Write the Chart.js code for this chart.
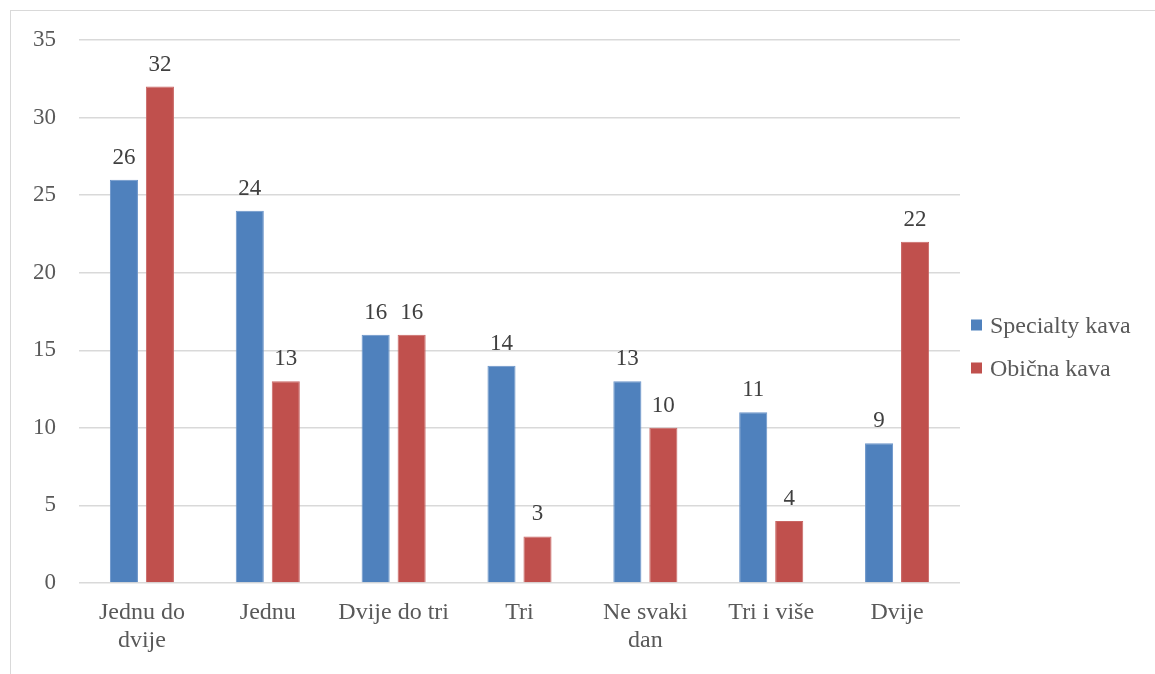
<!DOCTYPE html>
<html>
<head>
<meta charset="utf-8">
<script src="https://cdn.jsdelivr.net/npm/chart.js@4"></script>
<style>
    html, body { margin: 0; padding: 0; background: #fff; overflow: hidden; }
    #frame {
        position: absolute; left: 10px; top: 10px;
        width: 1144px; height: 663px;
        border: 1px solid #d9d9d9;
    }
    #chart { display: block; }
</style>
</head>
<body>
<div id="frame"><canvas id="chart" width="1144" height="663"></canvas></div>
<script>
var categories = [['Jednu do', 'dvije'], 'Jednu', 'Dvije do tri', 'Tri', ['Ne svaki', 'dan'], 'Tri i više', 'Dvije'];
var specialty = [26, 24, 16, 14, 13, 11, 9];
var obicna = [32, 13, 16, 3, 10, 4, 22];
var seriesNames = ['Specialty kava', 'Obična kava'];
var yTicks = { min: 0, max: 35, step: 5 };

var FONT = "'Liberation Serif', serif";

// value labels above every bar
var valueLabels = {
    id: 'valueLabels',
    afterDatasetsDraw: function (chart) {
        var ctx = chart.ctx;
        ctx.save();
        ctx.font = '23px ' + FONT;
        ctx.fillStyle = '#404040';
        ctx.textAlign = 'center';
        ctx.textBaseline = 'alphabetic';
        chart.data.datasets.forEach(function (ds, i) {
            chart.getDatasetMeta(i).data.forEach(function (bar, j) {
                ctx.fillText(ds.data[j], bar.x, bar.y - 16);
            });
        });
        ctx.restore();
    }
};

// legend on the right, like the office one
var sideLegend = {
    id: 'sideLegend',
    afterDraw: function (chart) {
        var ctx = chart.ctx;
        var x = chart.chartArea.right + 11;
        var y0 = chart.height / 2 - 17;
        ctx.save();
        ctx.font = '24px ' + FONT;
        ctx.textBaseline = 'middle';
        ctx.textAlign = 'left';
        chart.data.datasets.forEach(function (ds, i) {
            var cy = y0 + i * 43;
            ctx.fillStyle = ds.backgroundColor;
            ctx.fillRect(x, cy - 6, 11, 11);
            ctx.fillStyle = '#595959';
            ctx.fillText(ds.label, x + 19, cy + 1);
        });
        ctx.restore();
    }
};

new Chart(document.getElementById('chart'), {
    type: 'bar',
    data: {
        labels: categories,
        datasets: [
            { label: seriesNames[0], data: specialty, backgroundColor: '#4F81BD', borderColor: '#6a94c9', borderWidth: 1 },
            { label: seriesNames[1], data: obicna, backgroundColor: '#C0504D', borderColor: '#c96664', borderWidth: 1 }
        ]
    },
    options: {
        responsive: false,
        animation: false,
        categoryPercentage: 0.572,
        barPercentage: 0.78,
        layout: { padding: { top: 29, right: 195, bottom: 0, left: 0 } },
        plugins: {
            legend: { display: false },
            tooltip: { enabled: false }
        },
        scales: {
            x: {
                grid: { display: false },
                border: { display: false },
                ticks: { color: '#595959', font: { family: FONT, size: 24, lineHeight: 1.17 }, padding: 8, maxRotation: 0 },
                afterFit: function (s) { s.height = 91; s.paddingLeft = 0; s.paddingRight = 0; }
            },
            y: {
                min: yTicks.min,
                max: yTicks.max,
                grid: { color: '#d9d9d9', lineWidth: 1.5, drawTicks: false },
                border: { display: false },
                ticks: { stepSize: yTicks.step, color: '#595959', font: { family: FONT, size: 23 }, padding: 23 },
                afterFit: function (s) { s.width = 68; s.paddingTop = 0; s.paddingBottom = 0; }
            }
        }
    },
    plugins: [valueLabels, sideLegend]
});
</script>
</body>
</html>
